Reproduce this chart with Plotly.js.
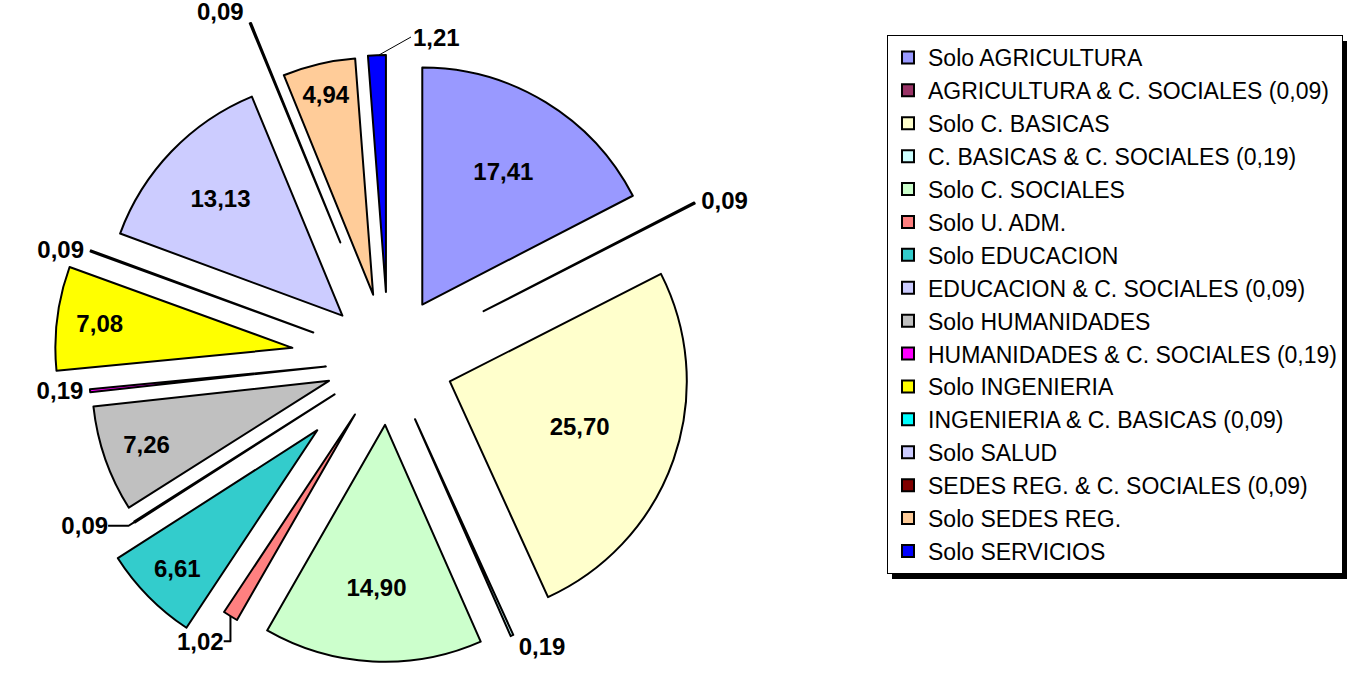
<!DOCTYPE html>
<html><head><meta charset="utf-8">
<script src="https://cdn.plot.ly/plotly-3.0.1.min.js"></script>
<style>
html,body{margin:0;padding:0;overflow:hidden;background:#fff;width:1353px;height:679px}
#chart{position:absolute;left:0;top:-4px;width:1353px;height:728px}
</style>
</head><body><div id="chart"></div>
<script>
const labels = [
  "Solo AGRICULTURA",
  "AGRICULTURA & C. SOCIALES (0,09)",
  "Solo C. BASICAS",
  "C. BASICAS & C. SOCIALES (0,19)",
  "Solo C. SOCIALES",
  "Solo U. ADM.",
  "Solo EDUCACION",
  "EDUCACION & C. SOCIALES (0,09)",
  "Solo HUMANIDADES",
  "HUMANIDADES & C. SOCIALES (0,19)",
  "Solo INGENIERIA",
  "INGENIERIA & C. BASICAS (0,09)",
  "Solo SALUD",
  "SEDES REG. & C. SOCIALES (0,09)",
  "Solo SEDES REG.",
  "Solo SERVICIOS"
];
const values = [17.41, 0.09, 25.70, 0.19, 14.90, 1.02, 6.61, 0.09, 7.26, 0.19, 7.08, 0.09, 13.13, 0.09, 4.94, 1.21];

// styling (not data)
const colors = ["#9999FF","#993366","#FFFFCC","#CCFFFF","#CCFFCC","#FF8080","#33CCCC","#CCCCFF",
                "#C0C0C0","#FF00FF","#FFFF00","#00FFFF","#CCCCFF","#800000","#FFCC99","#0000FF"];
const pulls = [0.274, 0.451, 0.274, 0.274, 0.274, 0.27, 0.422, 0.27, 0.266, 0.266, 0.409, 0.338, 0.27, 0.536, 0.283, 0.287];
const textPositions = ["inside","outside","inside","outside","inside","outside","inside","outside",
                       "inside","outside","inside","outside","inside","outside","inside","none"];

const font = 'Arial, "Liberation Sans", sans-serif';
const fmt = v => v.toFixed(2).replace('.', ',');

const trace = {
  type: 'pie',
  labels: labels,
  values: values,
  sort: false,
  direction: 'clockwise',
  rotation: 0,
  pull: pulls,
  marker: {colors: colors, line: {color: '#000000', width: 2}},
  texttemplate: '%{value:.2f}',
  textposition: textPositions,
  insidetextorientation: 'horizontal',
  textfont: {family: font, size: 24, color: '#000000', weight: 'bold'},
  insidetextfont: {family: font, size: 24, color: '#000000', weight: 'bold'},
  outsidetextfont: {family: font, size: 24, color: '#000000', weight: 'bold'},
  domain: {x: [0, 0.5743], y: [0, 1]},
  hoverinfo: 'label+value',
  showlegend: true
};

const H = 728, OFF = 4;
const py = y => 1 - (y + OFF) / H;
const px = x => x / 1353;

const layout = {
  width: 1353, height: H,
  margin: {l: 0, r: 0, t: 0, b: 0, autoexpand: false},
  paper_bgcolor: '#ffffff',
  separators: ',.',
  showlegend: true,
  legend: {
    x: px(887), y: py(35), xanchor: 'left', yanchor: 'top',
    bgcolor: '#ffffff', bordercolor: '#000000', borderwidth: 1,
    font: {family: font, size: 23, color: '#000000'},
    traceorder: 'normal'
  },
  shapes: [{
    type: 'rect', xref: 'paper', yref: 'paper',
    x0: px(892), x1: px(1347), y0: py(579), y1: py(41),
    fillcolor: '#000000', line: {width: 0}, layer: 'above'
  }],
  annotations: [{
    xref: 'paper', yref: 'paper', x: px(379), y: py(55),
    axref: 'pixel', ayref: 'pixel', ax: 32, ay: -18,
    text: '<b>' + fmt(values[15]) + '</b>',
    font: {family: font, size: 24, color: '#000000'},
    xanchor: 'left', yanchor: 'middle',
    showarrow: true, arrowhead: 0, arrowwidth: 1, arrowcolor: '#000000', standoff: 0
  }]
};

Plotly.newPlot('chart', [trace], layout, {displayModeBar: false, staticPlot: true});
</script>
</body></html>
